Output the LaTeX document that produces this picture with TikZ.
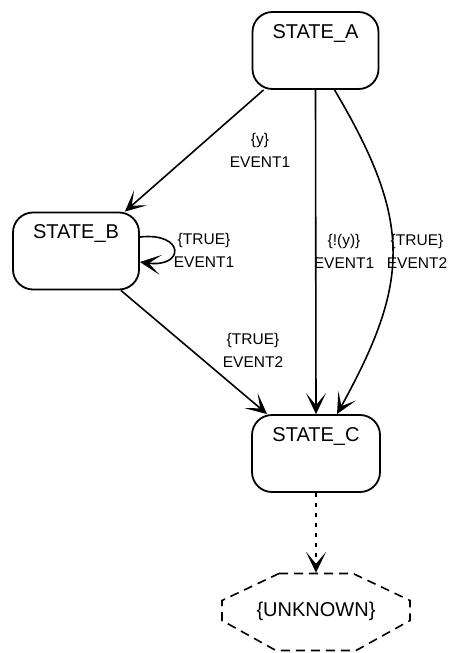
\documentclass[tikz,border=0pt]{standalone}
\usepackage{fontspec}
\setmainfont{Liberation Sans}
\usetikzlibrary{arrows.meta,calc}
\begin{document}
\begin{tikzpicture}[x=1pt,y=-1pt,
  statebox/.style={draw, line width=1.8pt, rounded corners=20pt,
    minimum width=126pt, minimum height=77pt, inner sep=0pt},
  statename/.style={font=\fontsize{20}{24}\selectfont, inner sep=0pt, anchor=north, yshift=-13pt},
  trans/.style={line width=1.6pt, -{Stealth[length=21pt,width=20pt,inset=12pt]}},
  guard/.style={font=\fontsize{15.5}{23}\selectfont, align=center, inner sep=0pt},
  octo/.style={line width=1.6pt, dash pattern=on 9pt off 6pt},
  pending/.style={trans, dash pattern=on 4pt off 6pt}
]
\useasboundingbox (0,0) rectangle (455,653);

% states
\node[statebox, label={[statename]north:STATE\_A}] (a) at (315.5,50.5) {};
\node[statebox, label={[statename]north:STATE\_B}] (b) at (76,251) {};
\node[statebox, minimum width=128pt, label={[statename]north:STATE\_C}] (c) at (316,453.5) {};
\node[minimum width=188pt, minimum height=77pt, inner sep=0pt,
      font=\fontsize{20}{24}\selectfont] (unk) at (316,611.5) {\{UNKNOWN\}};

% unknown target outline
\draw[octo] ($(unk.center)+(-37,-38)$) -- ($(unk.center)+(37,-38)$)
  -- ($(unk.center)+(94,-11)$) -- ($(unk.center)+(94,9)$)
  -- ($(unk.center)+(40,39)$) -- ($(unk.center)+(-40,39)$)
  -- ($(unk.center)+(-94,9)$) -- ($(unk.center)+(-94,-11)$) -- cycle;

% transitions
\draw[trans] ([xshift=12pt]a.south west) -- ([xshift=-15pt]b.north east);
\draw[trans] (a.south) -- (c.north);
\draw[trans] ([xshift=19pt]a.south) .. controls (413,222) and (410,282) .. ([xshift=21pt]c.north);
\draw[trans] ([yshift=14pt]b.east) .. controls (185,232) and (185,268) .. ([yshift=-11pt]b.east);
\draw[trans] ([xshift=-19pt]b.south east) -- ([xshift=16pt]c.north west);
\draw[pending] (c.south) -- (unk.north);

% guards and events
\node[guard] (g1) at (260,150.5) {\{y\}\\EVENT1};
\node[guard] (g2) at (344,251) {\{!(y)\}\\EVENT1};
\node[guard] (g3) at (417,251) {\{TRUE\}\\EVENT2};
\node[guard] (g4) at (204,250.5) {\{TRUE\}\\EVENT1};
\node[guard] (g5) at (253,350) {\{TRUE\}\\EVENT2};
\end{tikzpicture}
\end{document}
